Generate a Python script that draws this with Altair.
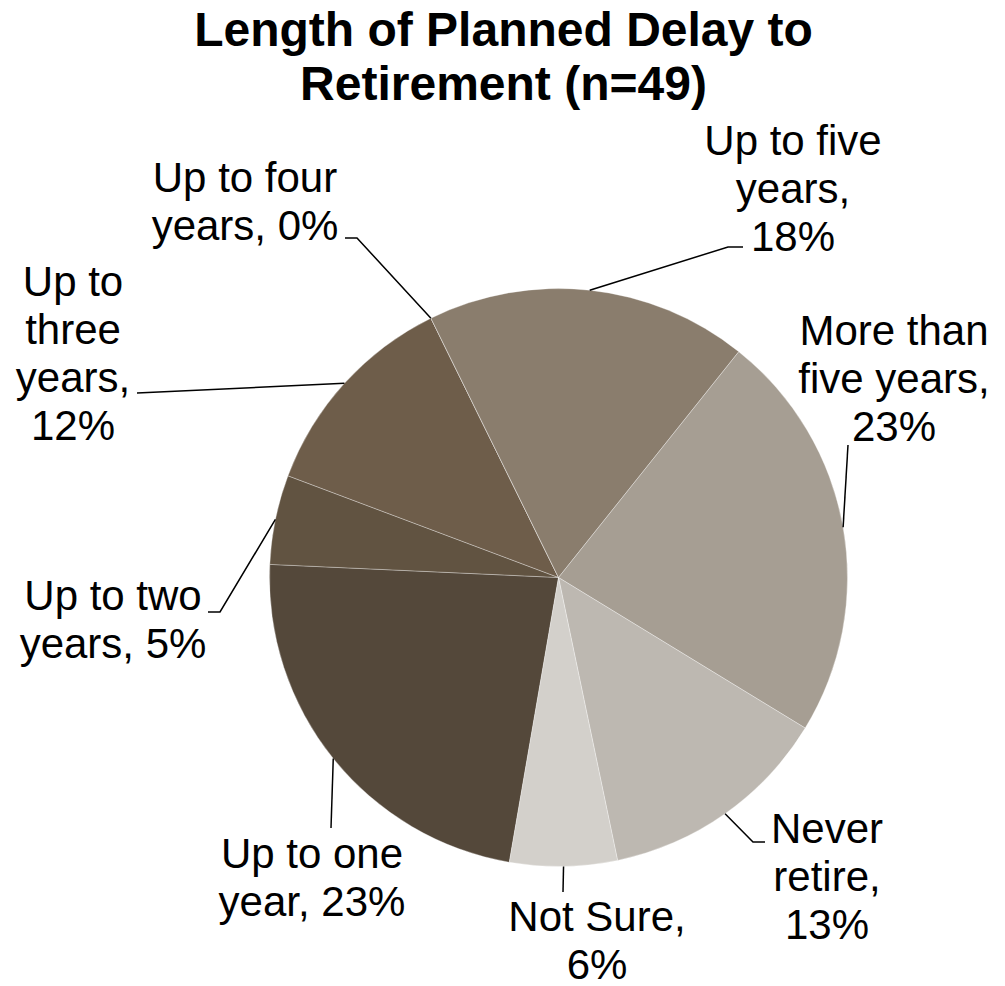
import math
import altair as alt
import pandas as pd

# ---------------- data ----------------
categories = ["Up to one year", "Up to two years", "Up to three years", "Up to four years",
              "Up to five years", "More than five years", "Never retire", "Not Sure"]
percents = [23, 5, 12, 0, 18, 23, 13, 6]
colors = ["#54483A", "#615341", "#6E5D4A", "#7C6C5A", "#8A7D6D", "#A69E93", "#BDB8B1", "#D3D0CB"]
label_lines = [
    ["Up to one", "year, {p}%"],
    ["Up to two", "years, {p}%"],
    ["Up to", "three", "years,", "{p}%"],
    ["Up to four", "years, {p}%"],
    ["Up to five", "years,", "{p}%"],
    ["More than", "five years,", "{p}%"],
    ["Never", "retire,", "{p}%"],
    ["Not Sure,", "{p}%"],
]
title_lines = ["Length of Planned Delay to", "Retirement (n=49)"]

# ---------------- layout (page pixels) ----------------
W, H = 989, 978
M = 8  # page margin
CX, CY, R = 558.5, 577.5, 289
START_DEG = 189.8
label_pos = [(312, 868), (113, 610), (73, 296), (245, 192),
             (793, 155), (894, 345), (827, 843), (597, 931)]
leader_tail = [[(331, 828)], [(220, 612), (208, 612)], [(137, 393)],
               [(357, 238), (345, 238)], [(728, 247), (743, 247)],
               [(848, 445)], [(753, 842), (765, 842)], [(563, 892)]]
LABEL_SIZE = 42
LINE_H = 48
FONT = "Liberation Sans"

# ---------------- pie ----------------
pie_df = pd.DataFrame({"category": categories, "percent": percents,
                       "idx": list(range(len(categories)))})
start = math.radians(START_DEG)
pie = alt.Chart(pie_df).mark_arc(
    outerRadius=R, stroke="white", strokeWidth=0.8, strokeOpacity=0.4
).encode(
    theta=alt.Theta("percent:Q", stack=True,
                    scale=alt.Scale(range=[start, start + 2 * math.pi])),
    color=alt.Color("category:N", scale=alt.Scale(domain=categories, range=colors), legend=None),
    order=alt.Order("idx:Q"),
    x=alt.value(CX - M),
    y=alt.value(CY - M),
)

# ---------------- leader lines (start on slice edge at mid-angle) ----------------
total = sum(percents)
rows = []
cum = 0.0
for i, (cat, p) in enumerate(zip(categories, percents)):
    mid = START_DEG + (cum + p / 2) / total * 360
    cum += p
    a = math.radians(mid)
    ex, ey = CX + R * math.sin(a), CY - R * math.cos(a)
    pts = [(ex, ey)] + leader_tail[i]
    for j, (px, py) in enumerate(pts):
        rows.append({"category": cat, "seq": j, "x": px - M, "y": py - M})
line_df = pd.DataFrame(rows)
lines = alt.Chart(line_df).mark_line(color="black", strokeWidth=1.5).encode(
    x=alt.X("x:Q", scale=None, axis=None),
    y=alt.Y("y:Q", scale=None, axis=None),
    detail="category:N",
    order="seq:Q",
)

# ---------------- labels ----------------
lab_df = pd.DataFrame({
    "category": categories,
    "text": ["\n".join(l.format(p=p) for l in lines_) for lines_, p in zip(label_lines, percents)],
    "x": [lp[0] - M for lp in label_pos],
    "y": [lp[1] - M for lp in label_pos],
})
labels = alt.Chart(lab_df).mark_text(
    font=FONT, fontSize=LABEL_SIZE, color="black", align="center",
    baseline="alphabetic", lineBreak="\n", lineHeight=LINE_H
).encode(
    x=alt.X("x:Q", scale=None, axis=None),
    y=alt.Y("y:Q", scale=None, axis=None),
    text="text:N",
)

# ---------------- title ----------------
title_df = pd.DataFrame({"text": ["\n".join(title_lines)], "x": [503.5 - M], "y": [46 - M]})
title = alt.Chart(title_df).mark_text(
    font=FONT, fontSize=48, fontWeight="bold", color="black", align="center",
    baseline="alphabetic", lineBreak="\n", lineHeight=54
).encode(
    x=alt.X("x:Q", scale=None, axis=None),
    y=alt.Y("y:Q", scale=None, axis=None),
    text="text:N",
)

chart = alt.layer(pie, lines, labels, title).properties(
    width=W, height=H, padding=0,
    autosize=alt.AutoSizeParams(type="none"),
    background="white",
).configure_view(stroke=None)

chart.save("out.html", embed_options={"renderer": "svg", "actions": False})
